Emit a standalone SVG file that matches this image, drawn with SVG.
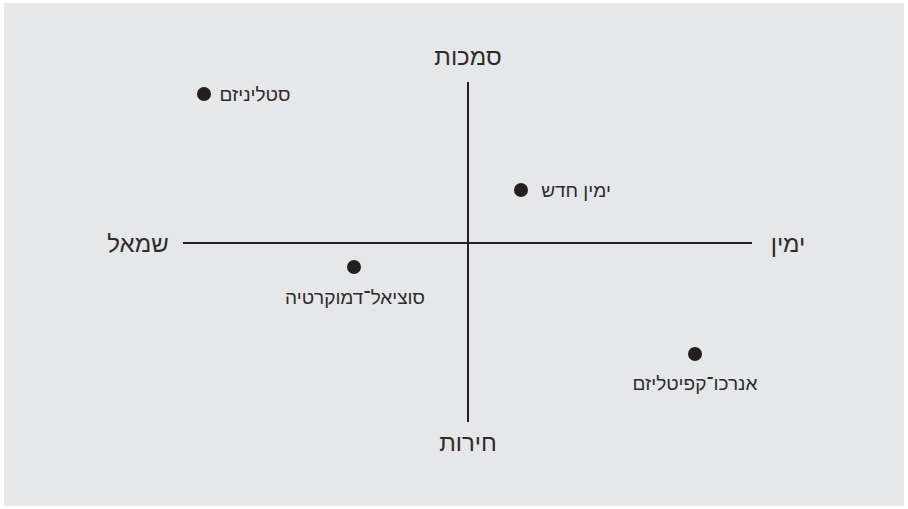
<svg xmlns="http://www.w3.org/2000/svg" width="908" height="509" viewBox="0 0 908 509">
<style>
.t{font-family:"Liberation Sans","DejaVu Sans",Arial,sans-serif;fill:#2e2b2c;text-anchor:middle}
.ax{font-size:24px}
.pt{font-size:19px}
.line{stroke:#231f20;stroke-width:2;fill:none}
.dot{fill:#231f20}
</style>
<rect x="4" y="3" width="900" height="503" fill="#e6e7e8"/>
<g id="connectors">
<line class="line" x1="468" y1="82" x2="468" y2="422"/>
<line class="line" x1="183" y1="243" x2="752" y2="243"/>
</g>
<g id="axis-top"><text class="t ax" x="468" y="65">סמכות</text></g>
<g id="axis-bottom"><text class="t ax" x="468" y="451">חירות</text></g>
<g id="axis-left"><text class="t ax" x="138" y="252">שמאל</text></g>
<g id="axis-right"><text class="t ax" x="788" y="252">ימין</text></g>
<g id="stalinism"><circle class="dot" cx="204" cy="94" r="7"/><text class="t pt" x="255" y="101">סטליניזם</text></g>
<g id="new-right"><circle class="dot" cx="521" cy="190" r="7"/><text class="t pt" x="576" y="197">ימין חדש</text></g>
<g id="social-democracy"><circle class="dot" cx="354" cy="267" r="7"/><text class="t pt" x="355" y="304">סוציאל־דמוקרטיה</text></g>
<g id="anarcho-capitalism"><circle class="dot" cx="695" cy="354" r="7"/><text class="t pt" x="695" y="390">אנרכו־קפיטליזם</text></g>
</svg>
